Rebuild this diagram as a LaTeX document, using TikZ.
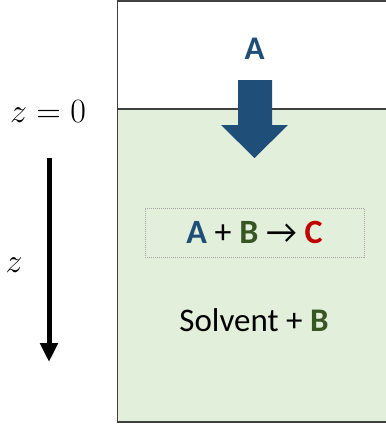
\RequirePackage{fix-cm}
\documentclass[tikz,border=0pt]{standalone}
\usepackage{fontspec}
\setsansfont{Carlito}
\usetikzlibrary{arrows.meta, positioning}
\definecolor{speciesBlue}{HTML}{1F4E79}
\definecolor{speciesGreen}{HTML}{375623}
\definecolor{speciesRed}{HTML}{C00000}
\definecolor{solventFill}{HTML}{E2EFDA}
\definecolor{wallGray}{HTML}{404040}

\begin{document}
\begin{tikzpicture}[x=1pt, y=-1pt,
    lbl/.style={font=\sffamily\fontsize{33}{40}\selectfont, inner sep=0pt},
    mlbl/.style={font=\fontsize{34}{40}\selectfont, inner sep=0pt}
  ]
  \useasboundingbox (0,0) rectangle (386,429);
  % liquid phase and vessel
  \fill[solventFill] (117,109) rectangle (386,422);
  \draw[wallGray, line width=1.8pt] (386,0.9) -- (117.5,0.9) -- (117.5,422) -- (386,422);
  \draw[wallGray, line width=1.2pt] (117.5,109) -- (386,109);
  % flux of A into the solvent
  \fill[speciesBlue] (238,80) -- (272,80) -- (272,125) -- (288,125) -- (254.5,158)
    -- (221,125) -- (238,125) -- cycle;
  \node[lbl, font=\sffamily\bfseries\fontsize{33}{40}\selectfont, text=speciesBlue] (gasA) at (254.5,49) {A};
  % reaction
  \node[lbl, font=\sffamily\fontsize{34}{40}\selectfont, draw=gray!70, densely dotted, line width=1pt,
    minimum width=219pt, minimum height=49pt] (rxn) at (254.5,232.5)
    {{\color{speciesBlue}\bfseries A} + {\color{speciesGreen}\bfseries B} → {\color{speciesRed}\bfseries C}};
  \node[lbl] (solv) at (254,320) {Solvent + {\color{speciesGreen}\bfseries B}};
  % depth axis
  \node[mlbl] (zzero) at (48,112) {$z = 0$};
  \node[mlbl] (zlbl) at (14,265) {$z$};
  \coordinate (ztop) at (49,158);
  \coordinate (zend) at (49,362);
  \draw[-{Triangle[length=19pt, width=17pt]}, line width=5pt] (ztop) -- (zend);
\end{tikzpicture}
\end{document}
